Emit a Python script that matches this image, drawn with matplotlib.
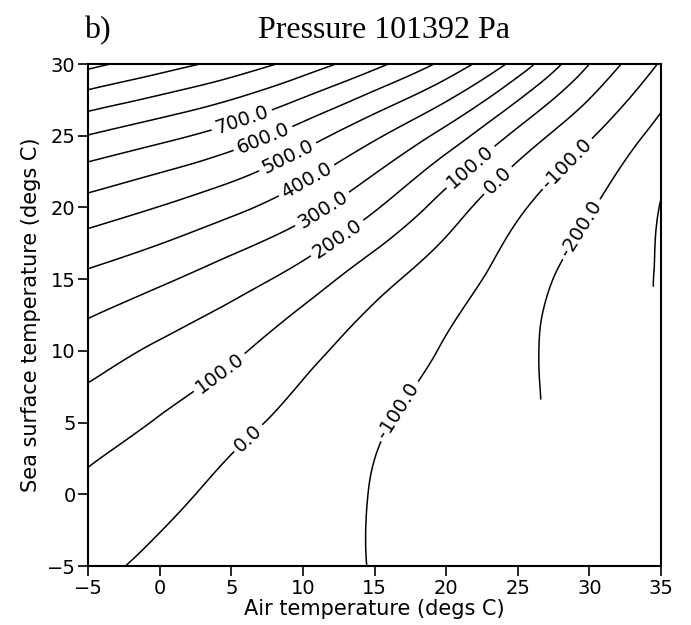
import numpy as np
import matplotlib
matplotlib.use("Agg")
import matplotlib.pyplot as plt
import matplotlib.tri as mtri

plt.rcParams['contour.negative_linestyle'] = 'solid'

# grid of the chart (degs C)
air_t = np.array([-5, 0, 5, 10, 15, 20, 25, 30, 35], dtype=float)
sea_t = np.array([-5, 0, 5, 10, 15, 20, 25, 30], dtype=float)

# field values at the grid nodes (rows: sea temp, cols: air temp)
flux = np.array([
    [  20,  -16,  -44,  -74, -103, -130, -160, -190, -220],
    [  76,   24,  -22,  -63, -104, -150, -190, -230, -270],
    [ 148,   92,   28,  -31,  -88, -137, -185, -230, -270],
    [ 247,  183,  119,   30,  -45, -108, -178, -249, -300],
    [ 377,  317,  245,  156,   38,  -56, -149, -246, -304],
    [ 558,  497,  426,  336,  211,   55,  -85, -192, -303],
    [ 797,  730,  655,  548,  417,  263,   73,  -89, -237],
    [1126, 1045,  962,  857,  728,  570,  360,  100, -110],
], dtype=float)

levels = np.arange(-300, 1200, 100)

# no values where the air is more than 20 degs warmer than the sea
max_diff = 20.0

# where the contour labels sit
label_spots = [
    (5.7, 26.2), (7.3, 24.6), (9.0, 23.4), (10.3, 21.8), (11.4, 19.8), (12.5, 17.7),
    (21.8, 22.7), (23.5, 22.0), (28.4, 23.1), (29.4, 18.5),
    (4.3, 8.3), (6.2, 3.9), (16.7, 5.8),
]

# triangulate the grid with diagonals running lower-left to upper-right
nx = len(air_t)
gx, gy = np.meshgrid(air_t, sea_t)
tris = []
for j in range(len(sea_t) - 1):
    for i in range(nx - 1):
        ll = j * nx + i
        lr = ll + 1
        ul = ll + nx
        ur = ul + 1
        tris.append([ll, lr, ur])
        tris.append([ll, ur, ul])
tri = mtri.Triangulation(gx.ravel(), gy.ravel(), np.array(tris))

refiner = mtri.UniformTriRefiner(tri)
tri_f, z_f = refiner.refine_field(flux.ravel(), subdiv=4)
xc = tri_f.x[tri_f.triangles].mean(axis=1)
yc = tri_f.y[tri_f.triangles].mean(axis=1)
tri_f.set_mask(xc - yc > max_diff)

fig = plt.figure(figsize=(6.91, 6.25), dpi=100)
ax = fig.add_axes([0.1274, 0.0944, 0.8292, 0.8032])

cs = ax.tricontour(tri_f, z_f, levels=levels, colors='k', linewidths=1.1,
                   linestyles='solid')
ax.clabel(cs, levels=levels, manual=label_spots, fmt='%.1f', fontsize=14,
          inline=True, inline_spacing=4)

ax.set_xlim(-5, 35)
ax.set_ylim(-5, 30)
ax.set_xticks(np.arange(-5, 36, 5))
ax.set_yticks(np.arange(-5, 31, 5))
ax.tick_params(direction='out', length=7, width=1.2, labelsize=14, pad=2)
for s in ax.spines.values():
    s.set_linewidth(1.5)

ax.set_xlabel('Air temperature (degs C)', fontsize=15, labelpad=1)
ax.set_ylabel('Sea surface temperature (degs C)', fontsize=15, labelpad=4)

fig.text(0.122, 0.939, 'b)', fontsize=23, family='Liberation Serif', va='baseline')
fig.text(0.555, 0.939, 'Pressure 101392 Pa', fontsize=23, family='Liberation Serif',
         va='baseline', ha='center')

fig.savefig('out.png', dpi=100)
